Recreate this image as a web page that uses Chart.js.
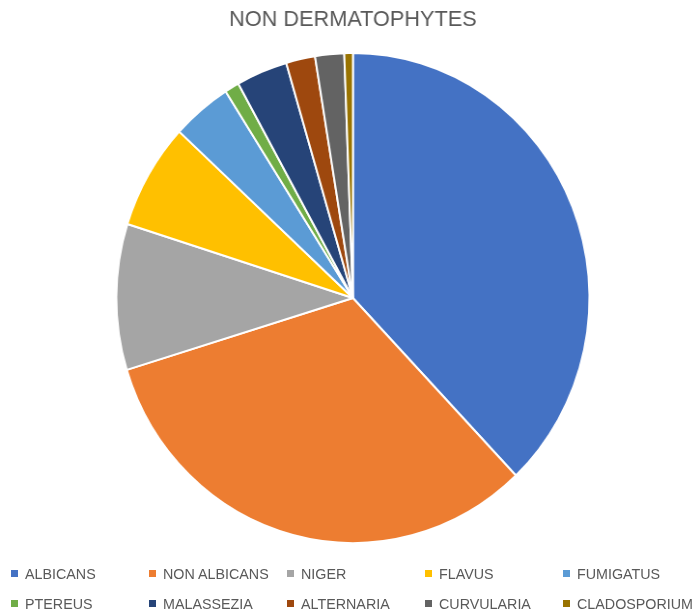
<!DOCTYPE html>
<html>
<head>
<meta charset="utf-8">
<script src="https://cdn.jsdelivr.net/npm/chart.js@4/dist/chart.umd.min.js"></script>
<style>
  html, body { margin: 0; padding: 0; background: #fff; }
  #wrap { position: relative; width: 698px; height: 615px; overflow: hidden; }
  /* the reference pie is a little narrower than tall, so squeeze the canvas horizontally */
  #squeeze { position: absolute; left: 0; top: 0; width: 723px; height: 615px;
             transform: scaleX(0.9655); transform-origin: 0 0; }
  #legend {
    position: absolute; left: 11px; top: 564px;
    display: grid; grid-template-columns: repeat(5, 138px); row-gap: 11px;
    font-family: "Liberation Sans", Arial, sans-serif; font-size: 14.3px; color: #595959;
  }
  .item { display: flex; align-items: center; height: 19px; white-space: nowrap; }
  .box { width: 7px; height: 7px; margin-right: 7px; }
</style>
</head>
<body>
<div id="wrap">
  <div id="squeeze"><canvas id="chart" width="723" height="615"></canvas></div>
  <div id="legend"></div>
</div>
<script>
const labels = ['ALBICANS', 'NON ALBICANS', 'NIGER', 'FLAVUS', 'FUMIGATUS',
                'PTEREUS', 'MALASSEZIA', 'ALTERNARIA', 'CURVULARIA', 'CLADOSPORIUM'];
const counts = [65, 55.5, 16.5, 12, 7, 1.7, 6, 3.4, 3.4, 1];
const colors = ['#4472C4', '#ED7D31', '#A5A5A5', '#FFC000', '#5B9BD5',
                '#70AD47', '#264478', '#9E480E', '#636363', '#997300'];

const chart = new Chart(document.getElementById('chart').getContext('2d'), {
  type: 'pie',
  data: {
    labels: labels,
    datasets: [{
      data: counts,
      backgroundColor: colors,
      borderColor: '#ffffff',
      borderWidth: 2
    }]
  },
  options: {
    responsive: false,
    animation: false,
    layout: { padding: { left: 8, right: 0, bottom: 71 } },
    plugins: {
      legend: { display: false },
      tooltip: { enabled: false },
      title: {
        display: true,
        text: 'NON DERMATOPHYTES',
        color: '#595959',
        font: { family: '"Liberation Sans", Arial, sans-serif', size: 22.5, weight: 'normal' },
        padding: { top: 6, bottom: 19 }
      }
    }
  }
});

// legend laid out in Excel-style columns
const legend = document.getElementById('legend');
labels.forEach((name, i) => {
  const item = document.createElement('div');
  item.className = 'item';
  const box = document.createElement('span');
  box.className = 'box';
  box.style.background = colors[i];
  item.appendChild(box);
  item.appendChild(document.createTextNode(name));
  legend.appendChild(item);
});
</script>
</body>
</html>
